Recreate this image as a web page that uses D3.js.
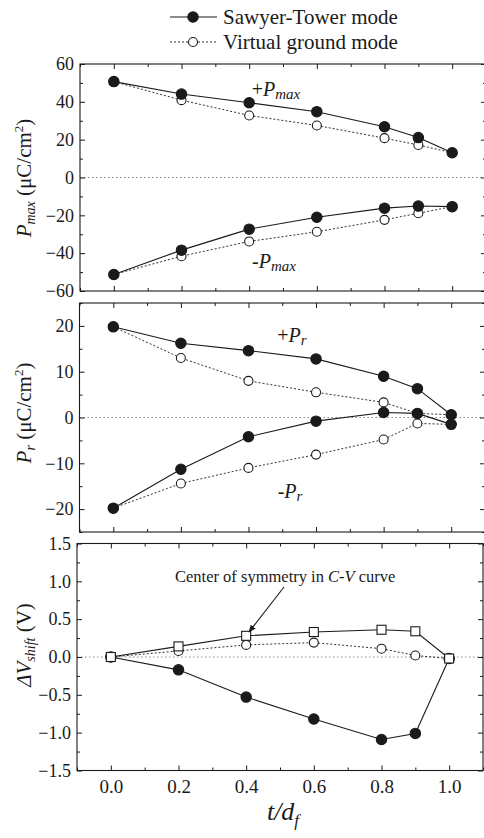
<!DOCTYPE html>
<html><head><meta charset="utf-8">
<script src="https://cdn.jsdelivr.net/npm/d3@7"></script>
<style>
body{margin:0;background:#fff;}
svg{display:block;}
</style></head>
<body><svg id="c" width="484" height="838" font-family="Liberation Serif"></svg>
<script>
const xVals = [0, 0.2, 0.4, 0.6, 0.8, 0.9, 1.0];
const xTicks = [0, 0.2, 0.4, 0.6, 0.8, 1.0];
const xMinor = [-0.1, 0.1, 0.3, 0.5, 0.7, 0.9, 1.1];

// Panel 1: Pmax
const pmaxST_pos = [50.7, 44.1, 39.5, 34.8, 26.8, 21.1, 13.1];
const pmaxVG_pos = [50.7, 40.9, 32.8, 27.5, 20.8, 17.2, 13.1];
const pmaxST_neg = [-51.3, -38.4, -27.3, -21.0, -16.2, -15.1, -15.4];
const pmaxVG_neg = [-51.3, -41.6, -33.8, -28.7, -22.4, -18.9, -15.4];
const pmaxTicks = [-60, -40, -20, 0, 20, 40, 60];
const pmaxMinor = [-50, -30, -10, 10, 30, 50];

// Panel 2: Pr
const prST_pos = [19.8, 16.2, 14.6, 12.8, 9.0, 6.3, 0.6];
const prVG_pos = [19.8, 13.0, 8.0, 5.5, 3.3, 0.9, 0.6];
const prST_neg = [-19.8, -11.3, -4.2, -0.8, 1.1, 0.9, -1.5];
const prVG_neg = [-19.8, -14.4, -11.0, -8.1, -4.8, -1.3, -1.5];
const prTicks = [-20, -10, 0, 10, 20];
const prMinor = [-25, -15, -5, 5, 15, 25];

// Panel 3: ΔV shift
const dvST = [0, -0.17, -0.53, -0.82, -1.09, -1.01, -0.02];
const dvCS = [0, 0.14, 0.28, 0.33, 0.36, 0.34, -0.02];
const dvVG = [0, 0.08, 0.16, 0.19, 0.11, 0.02, -0.02];
const dvTicks = [-1.5, -1.0, -0.5, 0.0, 0.5, 1.0, 1.5];
const dvMinor = [-1.25, -0.75, -0.25, 0.25, 0.75, 1.25];

const FONT = "Liberation Serif";
const svg = d3.select("#c");
const INK = "#1a1a1a";

function panel(cfg){
  const x = d3.scaleLinear().domain([-0.1, 1.1]).range([cfg.x0, cfg.x1]);
  const y = d3.scaleLinear().domain(cfg.ydom).range([cfg.y1, cfg.y0]);
  const g = svg.append("g");
  g.append("line").attr("x1", cfg.x0).attr("x2", cfg.x1).attr("y1", y(0)).attr("y2", y(0))
    .attr("stroke", "#777").attr("stroke-width", 0.9).attr("stroke-dasharray", "1.5,2.5");
  g.append("rect").attr("x", cfg.x0).attr("y", cfg.y0).attr("width", cfg.x1 - cfg.x0).attr("height", cfg.y1 - cfg.y0)
    .attr("fill", "none").attr("stroke", INK).attr("stroke-width", 1.1);
  const styleAxis = a => {
    a.attr("font-family", FONT);
    a.select(".domain").remove();
    a.selectAll("line").attr("stroke", INK);
  };
  const la = g.append("g").attr("transform", `translate(${cfg.x0},0)`)
    .call(d3.axisLeft(y).tickValues(cfg.yticks).tickSize(-5).tickPadding(6).tickFormat(cfg.yfmt));
  styleAxis(la);
  la.selectAll("text").attr("font-family", FONT).attr("font-size", 18).attr("fill", INK);
  styleAxis(g.append("g").attr("transform", `translate(${cfg.x0},0)`)
    .call(d3.axisLeft(y).tickValues(cfg.yminor).tickSize(-3).tickFormat("")));
  styleAxis(g.append("g").attr("transform", `translate(${cfg.x1},0)`)
    .call(d3.axisRight(y).tickValues(cfg.yticks).tickSize(-5).tickFormat("")));
  styleAxis(g.append("g").attr("transform", `translate(${cfg.x1},0)`)
    .call(d3.axisRight(y).tickValues(cfg.yminor).tickSize(-3).tickFormat("")));
  const ba = g.append("g").attr("transform", `translate(0,${cfg.y1})`)
    .call(d3.axisBottom(x).tickValues(xTicks).tickSize(-5).tickPadding(9)
      .tickFormat(cfg.xlabels ? d3.format(".1f") : ""));
  styleAxis(ba);
  ba.selectAll("text").attr("font-family", FONT).attr("font-size", 19).attr("fill", INK);
  styleAxis(g.append("g").attr("transform", `translate(0,${cfg.y1})`)
    .call(d3.axisBottom(x).tickValues(xMinor).tickSize(-3).tickFormat("")));
  styleAxis(g.append("g").attr("transform", `translate(0,${cfg.y0})`)
    .call(d3.axisTop(x).tickValues(xTicks).tickSize(-5).tickFormat("")));
  styleAxis(g.append("g").attr("transform", `translate(0,${cfg.y0})`)
    .call(d3.axisTop(x).tickValues(xMinor).tickSize(-3).tickFormat("")));

  const line = d3.line().x((d, i) => x(xVals[i])).y(d => y(d));
  cfg.series.forEach(s => {
    g.append("path").datum(s.values).attr("d", line).attr("fill", "none")
      .attr("stroke", INK).attr("stroke-width", s.dash ? 0.9 : 1.1)
      .attr("stroke-dasharray", s.dash ? "2,2" : null);
  });
  cfg.series.forEach(s => {
    const mg = g.append("g");
    s.values.forEach((v, i) => {
      if (s.marker === "square") {
        mg.append("rect").attr("x", x(xVals[i]) - 4.5).attr("y", y(v) - 4.5).attr("width", 9).attr("height", 9)
          .attr("fill", "#fff").attr("stroke", INK).attr("stroke-width", 1.1);
      } else {
        mg.append("circle").attr("cx", x(xVals[i])).attr("cy", y(v)).attr("r", s.filled ? 5.2 : 4.5)
          .attr("fill", s.filled ? INK : "#fff").attr("stroke", INK).attr("stroke-width", 1.1);
      }
    });
  });
  return {x, y, g};
}

panel({x0: 80, x1: 486, y0: 64, y1: 291, ydom: [-60, 60], yticks: pmaxTicks, yminor: pmaxMinor,
  yfmt: d3.format("d"), xlabels: false,
  series: [
    {values: pmaxVG_pos, dash: true, filled: false},
    {values: pmaxVG_neg, dash: true, filled: false},
    {values: pmaxST_pos, dash: false, filled: true},
    {values: pmaxST_neg, dash: false, filled: true}
  ]});
panel({x0: 79.5, x1: 485, y0: 303, y1: 532, ydom: [-25, 25], yticks: prTicks, yminor: prMinor,
  yfmt: d3.format("d"), xlabels: false,
  series: [
    {values: prVG_pos, dash: true, filled: false},
    {values: prVG_neg, dash: true, filled: false},
    {values: prST_pos, dash: false, filled: true},
    {values: prST_neg, dash: false, filled: true}
  ]});
panel({x0: 77, x1: 483, y0: 543.5, y1: 770.5, ydom: [-1.5, 1.5], yticks: dvTicks, yminor: dvMinor,
  yfmt: d3.format(".1f"), xlabels: true,
  series: [
    {values: dvVG, dash: true, filled: false},
    {values: dvST, dash: false, filled: true},
    {values: dvCS, dash: false, marker: "square"}
  ]});

function yTitle(cx, cy, parts){
  const t = svg.append("text").attr("transform", `translate(${cx},${cy}) rotate(-90)`)
    .attr("text-anchor", "middle").attr("font-size", 21).attr("font-family", FONT).attr("fill", INK);
  parts.forEach(p => {
    const ts = t.append("tspan").text(p.t);
    if (p.i) ts.attr("font-style", "italic");
    if (p.sub) ts.attr("font-size", 14).attr("baseline-shift", "-4");
    if (p.sup) ts.attr("font-size", 13).attr("baseline-shift", "8");
  });
}
yTitle(31, 178, [{t: "P", i: true}, {t: "max", i: true, sub: true}, {t: " (μC/cm"}, {t: "2", sup: true}, {t: ")"}]);
yTitle(31, 413, [{t: "P", i: true}, {t: "r", i: true, sub: true}, {t: " (μC/cm"}, {t: "2", sup: true}, {t: ")"}]);
yTitle(31, 645, [{t: "ΔV", i: true}, {t: "shift", i: true, sub: true}, {t: " (V)"}]);

const xt = svg.append("text").attr("x", 283).attr("y", 820).attr("text-anchor", "middle")
  .attr("font-size", 26).attr("font-family", FONT).attr("fill", INK).attr("font-style", "italic");
xt.append("tspan").text("t/d");
xt.append("tspan").text("f").attr("font-size", 17).attr("baseline-shift", "-6");

function ann(x, y, main, sub, sign){
  const t = svg.append("text").attr("x", x).attr("y", y).attr("text-anchor", "middle")
    .attr("font-size", 20).attr("font-family", FONT).attr("fill", INK);
  t.append("tspan").text(sign);
  t.append("tspan").text(main).attr("font-style", "italic");
  t.append("tspan").text(sub).attr("font-style", "italic").attr("font-size", 15).attr("baseline-shift", "-3");
}
ann(276, 96, "P", "max", "+");
ann(274, 268, "P", "max", "-");
ann(292, 342, "P", "r", "+");
ann(290, 498, "P", "r", "-");

const cs = svg.append("text").attr("x", 175).attr("y", 582).attr("font-size", 16.5).attr("font-family", FONT).attr("fill", INK);
cs.append("tspan").text("Center of symmetry in ");
cs.append("tspan").text("C").attr("font-style", "italic");
cs.append("tspan").text("-");
cs.append("tspan").text("V").attr("font-style", "italic");
cs.append("tspan").text(" curve");
svg.append("defs").append("marker").attr("id", "ah").attr("viewBox", "0 0 10 10").attr("refX", 9).attr("refY", 5)
  .attr("markerWidth", 7).attr("markerHeight", 7).attr("orient", "auto")
  .append("path").attr("d", "M0,1 L10,5 L0,9 Z").attr("fill", INK);
svg.append("line").attr("x1", 284).attr("y1", 587).attr("x2", 249).attr("y2", 632)
  .attr("stroke", INK).attr("stroke-width", 1.1).attr("marker-end", "url(#ah)");

const legend = [
  {label: "Sawyer-Tower mode", filled: true, dash: false},
  {label: "Virtual ground mode", filled: false, dash: true}
];
legend.forEach((d, i) => {
  const yy = 17 + i * 25;
  svg.append("line").attr("x1", 170).attr("x2", 217).attr("y1", yy).attr("y2", yy)
    .attr("stroke", INK).attr("stroke-width", d.dash ? 0.9 : 1.1).attr("stroke-dasharray", d.dash ? "2,2" : null);
  svg.append("circle").attr("cx", 193).attr("cy", yy).attr("r", d.filled ? 5.2 : 4.5)
    .attr("fill", d.filled ? INK : "#fff").attr("stroke", INK).attr("stroke-width", 1.1);
  svg.append("text").attr("x", 223).attr("y", yy + 7).attr("font-size", 21).attr("font-family", FONT)
    .attr("fill", INK).text(d.label);
});
</script></body></html>
